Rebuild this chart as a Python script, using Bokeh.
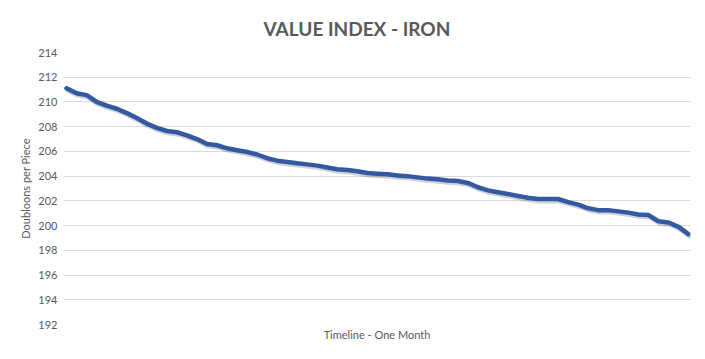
from bokeh.plotting import figure
from bokeh.models import Range1d, FixedTicker, ColumnDataSource
from bokeh.embed import file_html
from bokeh.resources import INLINE

title_text = "VALUE INDEX - IRON"
y_label = "Doubloons per Piece"
x_label = "Timeline - One Month"
y_ticks = [192, 194, 196, 198, 200, 202, 204, 206, 208, 210, 212, 214]

values = [211.1, 210.7, 210.55, 210.0, 209.7, 209.45, 209.1, 208.7, 208.25, 207.9,
          207.65, 207.55, 207.3, 207.0, 206.6, 206.5, 206.25, 206.1, 205.95, 205.75,
          205.45, 205.25, 205.15, 205.05, 204.95, 204.85, 204.7, 204.55, 204.5, 204.4,
          204.25, 204.2, 204.15, 204.05, 204.0, 203.9, 203.8, 203.75, 203.65, 203.6,
          203.45, 203.1, 202.85, 202.7, 202.55, 202.4, 202.25, 202.15, 202.15, 202.15,
          201.9, 201.7, 201.4, 201.25, 201.25, 201.15, 201.05, 200.9, 200.85, 200.35,
          200.25, 199.9, 199.3]
steps = list(range(len(values)))

src = ColumnDataSource(dict(x=steps, y=values))
shadow = ColumnDataSource(dict(x=[s + 0.15 for s in steps], y=[v - 0.12 for v in values]))

grey = "#595959"
p = figure(width=697, height=343, output_backend="svg", toolbar_location=None,
           x_range=Range1d(-0.3, 62.2), y_range=Range1d(192, 214),
           min_border_left=63, min_border_right=7, min_border_top=52, min_border_bottom=17)
p.title.text = title_text
p.title.text_font = "Lato"
p.title.text_font_size = "19px"
p.title.text_font_style = "bold"
p.title.text_color = grey
p.title.align = "left"
p.title.offset = 200
p.title.standoff = 26
p.title.vertical_align = "bottom"

p.outline_line_color = None
p.background_fill_color = "white"
p.border_fill_color = "white"

p.xgrid.grid_line_color = None
p.ygrid.grid_line_color = "#d9d9d9"
p.ygrid.grid_line_width = 1
p.yaxis.ticker = FixedTicker(ticks=y_ticks)
p.yaxis.axis_line_color = None
p.yaxis.major_tick_line_color = None
p.yaxis.minor_tick_line_color = None
p.yaxis.major_tick_out = 0
p.yaxis.major_tick_in = 0
p.yaxis.major_label_standoff = 6
p.yaxis.major_label_text_font = "Lato"
p.yaxis.major_label_text_font_size = "11px"
p.yaxis.major_label_text_color = grey
p.yaxis.axis_label = y_label
p.yaxis.axis_label_text_font = "Lato"
p.yaxis.axis_label_text_font_size = "11px"
p.yaxis.axis_label_text_font_style = "normal"
p.yaxis.axis_label_text_color = grey
p.yaxis.axis_label_standoff = 3

p.xaxis.ticker = FixedTicker(ticks=[])
p.xaxis.axis_line_color = None
p.xaxis.major_tick_line_color = None
p.xaxis.minor_tick_line_color = None
p.xaxis.major_label_text_font_size = "0px"
p.xaxis.major_label_standoff = 0
p.xaxis.axis_label = x_label
p.xaxis.axis_label_text_font = "Lato"
p.xaxis.axis_label_text_font_size = "11px"
p.xaxis.axis_label_text_font_style = "normal"
p.xaxis.axis_label_text_color = grey
p.xaxis.axis_label_standoff = 3

p.line("x", "y", source=shadow, line_color="#000000", line_alpha=0.18, line_width=6, line_join="round", line_cap="round")
p.line("x", "y", source=src, line_color="#3459a3", line_width=4.5, line_join="round", line_cap="round")

open("out.html", "w").write(file_html(p, INLINE))
